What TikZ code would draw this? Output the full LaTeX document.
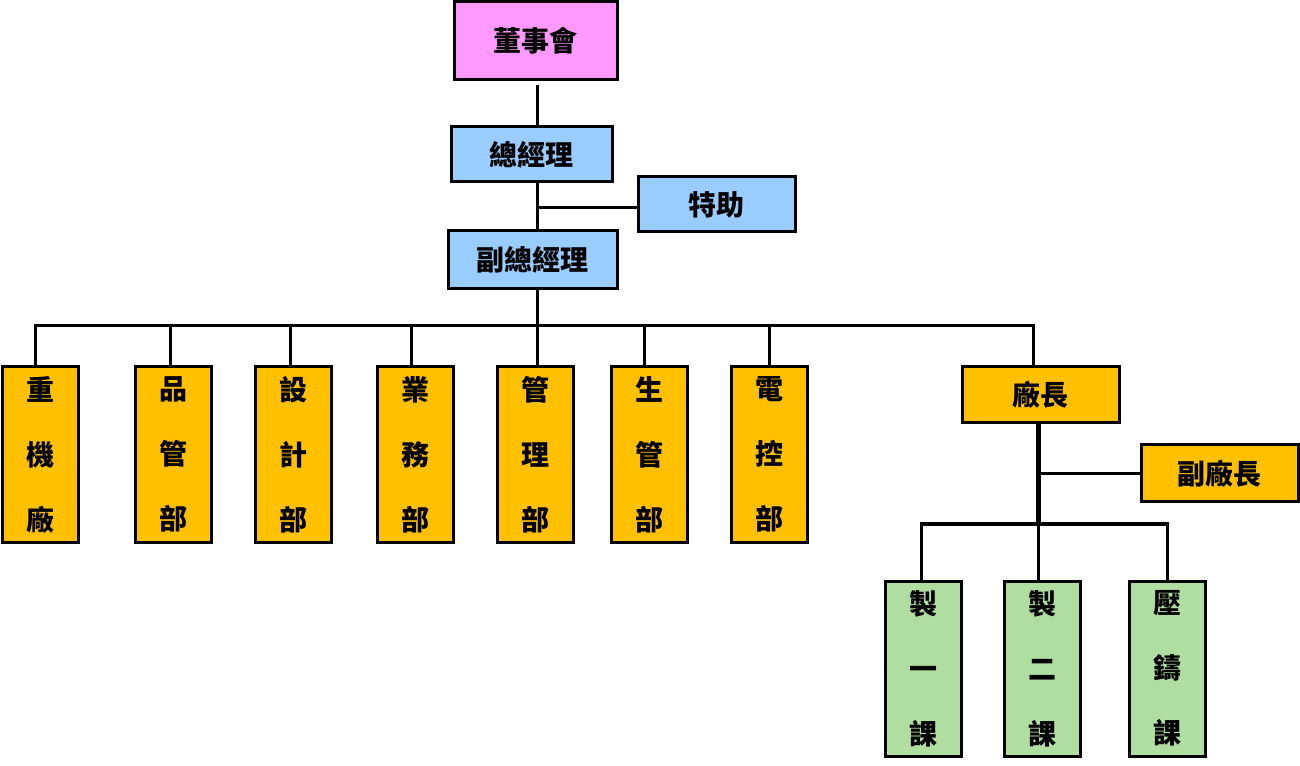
\documentclass[tikz,border=0pt]{standalone}
\usepackage{fontspec}
\newfontfamily\cjk{Noto Sans CJK TC}
\definecolor{pinkfill}{HTML}{FF99FF}
\definecolor{bluefill}{HTML}{99CCFF}
\definecolor{orangefill}{HTML}{FFC000}
\definecolor{greenfill}{HTML}{B0DEA1}
\begin{document}
\begin{tikzpicture}[x=0.75pt,y=-0.75pt,
  box/.style={draw=black, line width=2.25pt, inner sep=0pt,
    font=\cjk\bfseries\fontsize{21}{21}\selectfont},
  vbox/.style={box, minimum width=57pt, minimum height=131.25pt, align=center,
    font=\cjk\bfseries\fontsize{21}{48.75}\selectfont},
  link/.style={line width=2.25pt},
  thicklink/.style={line width=3.75pt}]
\useasboundingbox (0,0) rectangle (1300,766);
% top
\node[box, fill=pinkfill, minimum width=122.25pt, minimum height=58.5pt] (board) at (535.5,41) {董事會};
\node[box, fill=bluefill, minimum width=120.75pt, minimum height=41.25pt] (gm) at (531.5,154.5) {總經理};
\node[box, fill=bluefill, minimum width=117.75pt, minimum height=41.25pt] (assist) at (716.5,204.5) {特助};
\node[box, fill=bluefill, minimum width=126.75pt, minimum height=43.5pt] (vgm) at (532.5,260) {副總經理};
% departments
\node[vbox, fill=orangefill] (d1) at (40.5,454.5) {重\\機\\廠};
\node[vbox, fill=orangefill] (d2) at (173,454.5) {品\\管\\部};
\node[vbox, fill=orangefill] (d3) at (293,454.5) {設\\計\\部};
\node[vbox, fill=orangefill] (d4) at (415,454.5) {業\\務\\部};
\node[vbox, fill=orangefill] (d5) at (535.5,454.5) {管\\理\\部};
\node[vbox, fill=orangefill] (d6) at (649.5,454.5) {生\\管\\部};
\node[vbox, fill=orangefill] (d7) at (769.5,454.5) {電\\控\\部};
\node[box, fill=orangefill, minimum width=117.75pt, minimum height=42pt] (fm) at (1040.5,395) {廠長};
\node[box, fill=orangefill, minimum width=117.75pt, minimum height=42.75pt] (vfm) at (1219.5,473.5) {副廠長};
% sections
\node[vbox, fill=greenfill] (s1) at (923,668.5) {製\\一\\課};
\node[vbox, fill=greenfill] (s2) at (1042,668.5) {製\\二\\課};
\node[vbox, fill=greenfill] (s3) at (1167,668.5) {壓\\鑄\\課};
% coordinates
\coordinate (spine) at (537,0);
\coordinate (bus) at (537,326);
\coordinate (fspine) at (1038,0);
\coordinate (fbus) at (1038,524);
% connectors
\draw[link] ([yshift=-3pt]board.south -| spine) -- (gm.north -| spine);
\draw[link] (gm.south -| spine) -- (vgm.north -| spine);
\draw[link] ([yshift=-2.6pt]assist.west) -- ([yshift=-2.6pt]assist.west -| spine);
\draw[link] (vgm.south -| spine) -- (bus);
\draw[link] ([xshift=-4.1pt]d1.north) |- (bus);
\draw[link] ([xshift=-2.25pt]d2.north) |- (bus);
\draw[link] ([xshift=-2.25pt]d3.north) |- (bus);
\draw[link] ([xshift=-3pt]d4.north) |- (bus);
\draw[link] (d5.north -| spine) -- (bus);
\draw[link] ([xshift=-3.4pt]d6.north) |- (bus);
\draw[link] (d7.north) |- (bus);
\draw[link] ([xshift=-4.9pt]fm.north) |- (bus);
\draw[thicklink] (fm.south -| fspine) -- (fbus);
\draw[link] (vfm.west) -- (vfm.west -| fspine);
\draw[link] (s1.north -| 921,0) |- (fbus);
\draw[link] (s2.north -| fspine) -- (fbus);
\draw[link] (s3.north) |- (fbus);
\end{tikzpicture}
\end{document}
